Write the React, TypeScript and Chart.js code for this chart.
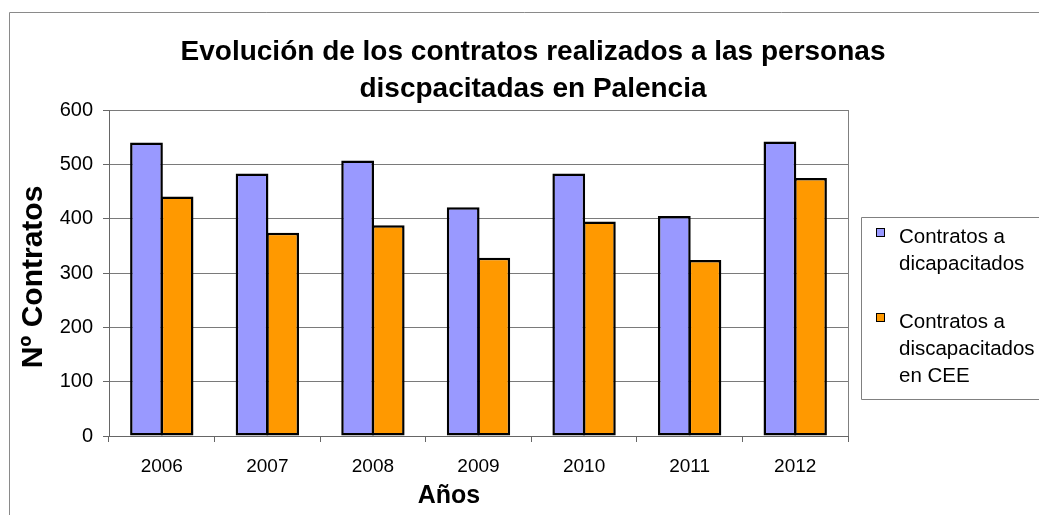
import React, { useEffect, useRef } from "react";
import { Chart, registerables } from "chart.js";

Chart.register(...registerables);

const years = ["2006", "2007", "2008", "2009", "2010", "2011", "2012"];
const contratosDiscapacitados = [540, 483, 507, 421, 483, 405, 542];
const contratosCEE = [441, 374, 388, 328, 395, 324, 475];
const series1Lines = ["Contratos a", "dicapacitados"];
const series2Lines = ["Contratos a", "discapacitados", "en CEE"];
const titleLines = [
  "Evolución de los contratos realizados a las personas",
  "discpacitadas en Palencia",
];
const yTitle = "Nº Contratos";
const xTitle = "Años";
const yTickMax = 600;
const yTickStep = 100;

const FONT = '"Liberation Sans", Arial, sans-serif';
const BLUE = "#9999FF";
const ORANGE = "#FF9900";

const decorPlugin = {
  id: "decor",
  afterDraw(chart: any) {
    const ctx = chart.ctx as CanvasRenderingContext2D;
    const ca = chart.chartArea;
    ctx.save();
    // outer frame
    ctx.strokeStyle = "#8a8a8a";
    ctx.lineWidth = 1;
    ctx.beginPath();
    ctx.moveTo(9.5, 515);
    ctx.lineTo(9.5, 12.5);
    ctx.lineTo(1039, 12.5);
    ctx.stroke();
    // plot right border
    ctx.strokeStyle = "#808080";
    ctx.beginPath();
    ctx.moveTo(Math.round(ca.right) + 0.5, ca.top);
    ctx.lineTo(Math.round(ca.right) + 0.5, ca.bottom);
    ctx.stroke();

    // title
    ctx.fillStyle = "#000";
    ctx.font = `bold 28px ${FONT}`;
    ctx.textAlign = "center";
    ctx.textBaseline = "alphabetic";
    ctx.fillText(titleLines[0], 533, 60);
    ctx.fillText(titleLines[1], 533, 97);

    // x title
    ctx.font = `bold 25px ${FONT}`;
    ctx.fillText(xTitle, 449, 503);

    // y title
    ctx.save();
    ctx.translate(34, 277);
    ctx.rotate(-Math.PI / 2);
    ctx.font = `bold 30px ${FONT}`;
    ctx.textBaseline = "middle";
    ctx.fillText(yTitle, 0, 0);
    ctx.restore();

    // legend
    ctx.strokeStyle = "#808080";
    ctx.lineWidth = 1;
    ctx.beginPath();
    ctx.moveTo(1039, 217.5);
    ctx.lineTo(861.5, 217.5);
    ctx.lineTo(861.5, 399.5);
    ctx.lineTo(1039, 399.5);
    ctx.stroke();

    const items = [
      { lines: series1Lines, color: BLUE, top: 243 },
      { lines: series2Lines, color: ORANGE, top: 328 },
    ];
    ctx.font = `20.5px ${FONT}`;
    ctx.textAlign = "left";
    ctx.textBaseline = "alphabetic";
    items.forEach((it) => {
      ctx.fillStyle = it.color;
      ctx.fillRect(876, it.top - 15, 9, 9);
      ctx.strokeStyle = "#000";
      ctx.strokeRect(876.5, it.top - 14.5, 8, 8);
      ctx.fillStyle = "#000";
      it.lines.forEach((ln, i) => {
        ctx.fillText(ln, 899, it.top + i * 27);
      });
    });
    ctx.restore();
  },
};

export default function App() {
  const ref = useRef<HTMLCanvasElement | null>(null);
  useEffect(() => {
    if (!ref.current) return;
    const chart = new Chart(ref.current, {
      type: "bar",
      data: {
        labels: years,
        datasets: [
          {
            label: series1Lines.join(" "),
            data: contratosDiscapacitados,
            backgroundColor: BLUE,
            borderColor: "#000",
            borderWidth: 2.5,
            borderSkipped: false,
          },
          {
            label: series2Lines.join(" "),
            data: contratosCEE,
            backgroundColor: ORANGE,
            borderColor: "#000",
            borderWidth: 2.5,
            borderSkipped: false,
          },
        ],
      },
      options: {
        animation: false,
        responsive: false,
        maintainAspectRatio: false,
        devicePixelRatio: 1,
        datasets: {
          bar: { categoryPercentage: 0.58, barPercentage: 1.07 },
        },
        layout: { padding: { left: 0, top: 110, right: 191, bottom: 0 } },
        plugins: {
          legend: { display: false },
          title: { display: false },
          tooltip: { enabled: false },
        },
        scales: {
          x: {
            afterFit: (scale: any) => {
              scale.height = 79;
            },
            grid: {
              display: true,
              drawOnChartArea: false,
              offset: true,
              tickLength: 6,
              color: "#666",
            },
            border: { display: true, color: "#666", width: 1 },
            ticks: {
              padding: 13,
              color: "#000",
              font: { family: FONT, size: 19 },
              maxRotation: 0,
            },
          },
          y: {
            min: 0,
            max: yTickMax,
            afterFit: (scale: any) => {
              scale.width = 109;
            },
            grid: {
              color: "#7a7a7a",
              tickLength: 6,
              tickColor: "#666",
            },
            border: { display: true, color: "#666", width: 1 },
            ticks: {
              stepSize: yTickStep,
              padding: 10,
              color: "#000",
              font: { family: FONT, size: 20 },
            },
          },
        },
      },
      plugins: [decorPlugin],
    } as any);
    return () => chart.destroy();
  }, []);
  return (
    <div style={{ position: "absolute", left: 0, top: 0, width: 1039, height: 515, background: "#fff" }}>
      <canvas ref={ref} width={1039} height={515} style={{ width: 1039, height: 515 }} />
    </div>
  );
}
